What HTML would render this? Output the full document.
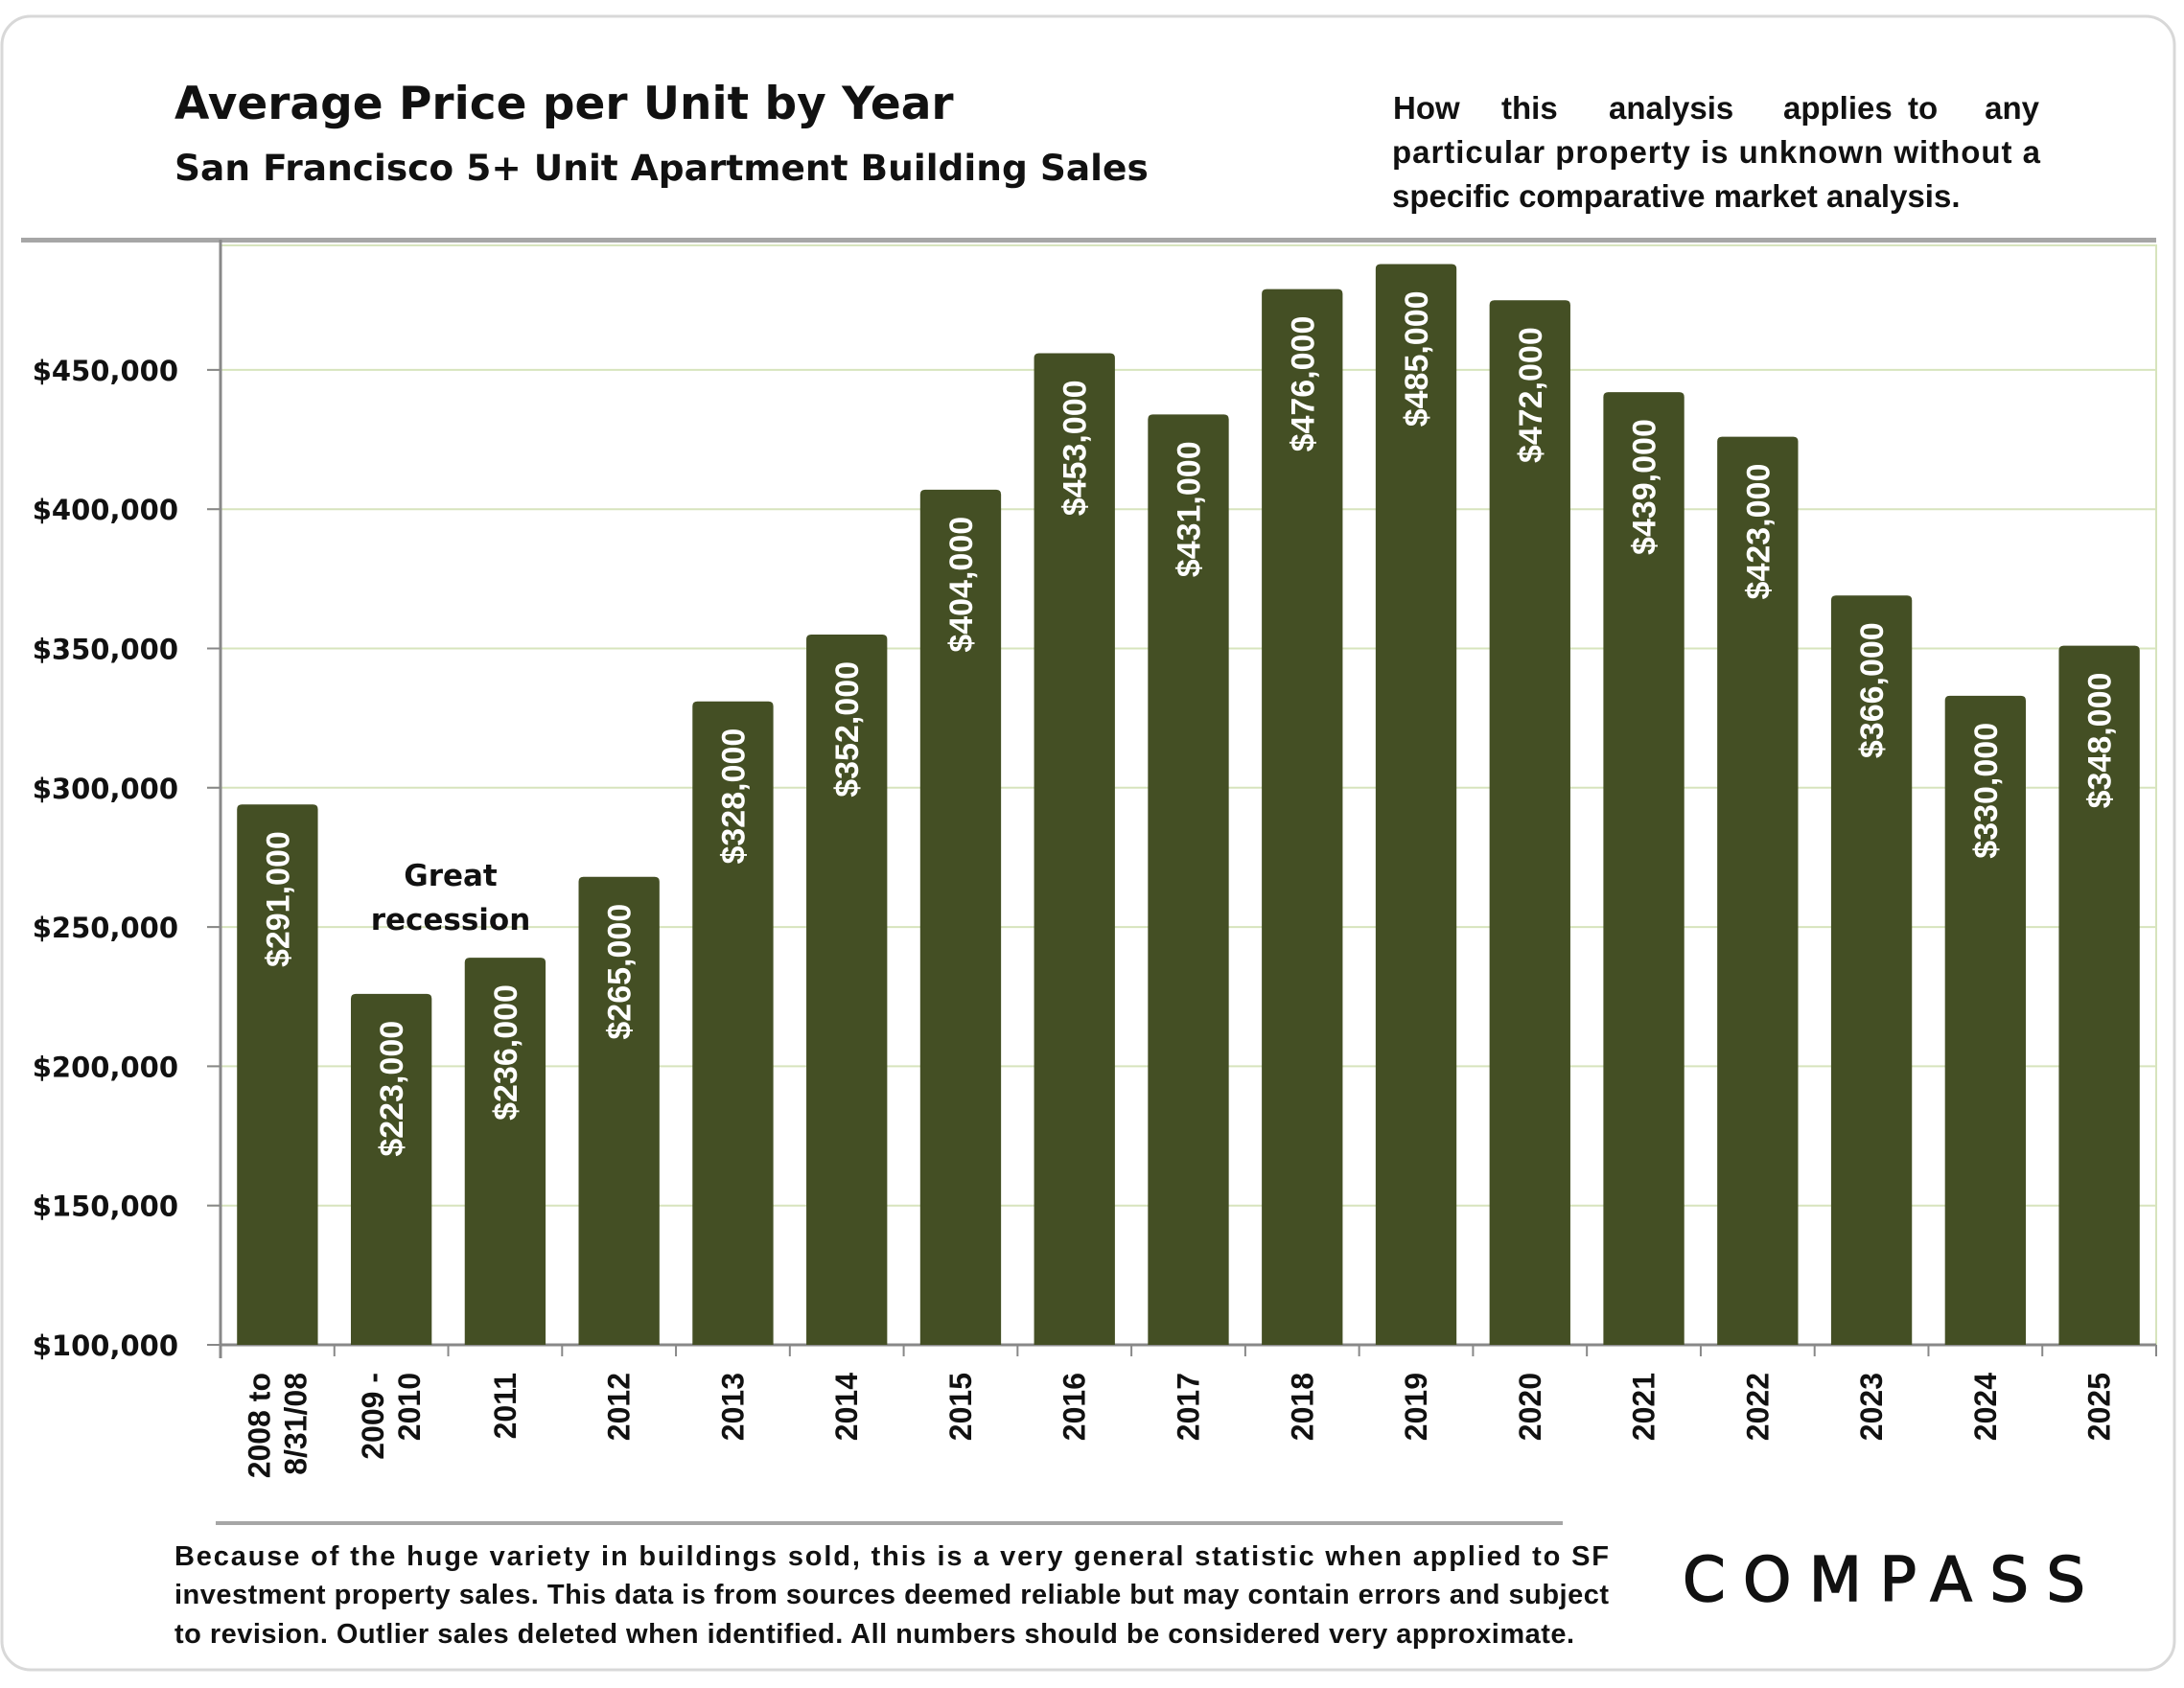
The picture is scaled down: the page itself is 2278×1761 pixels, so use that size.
<!DOCTYPE html>
<html><head><meta charset="utf-8">
<style>
html,body{margin:0;padding:0;background:#fff;}
body{width:2278px;height:1756px;overflow:hidden;position:relative;font-family:"Liberation Sans",sans-serif;}
</style></head>
<body>
<svg id="chart" width="2278" height="1756" viewBox="0 0 2278 1756" xmlns="http://www.w3.org/2000/svg">
  <rect x="2" y="17" width="2266" height="1725" rx="30" fill="#fff" stroke="#d8d8d8" stroke-width="3"/>
  <text x="182" y="124" font-family="DejaVu Sans, sans-serif" font-weight="bold" font-size="47" fill="#111">Average Price per Unit by Year</text>
  <text x="182" y="188" font-family="DejaVu Sans, sans-serif" font-weight="bold" font-size="37.5" fill="#111">San Francisco 5+ Unit Apartment Building Sales</text>
  <g font-family="Liberation Sans, sans-serif" font-weight="bold" font-size="33" fill="#111">
    <text x="1453" y="124">How</text>
    <text x="1566" y="124">this</text>
    <text x="1678" y="124">analysis</text>
    <text x="1860" y="124">applies</text>
    <text x="1990" y="124">to</text>
    <text x="2127" y="124" text-anchor="end">any</text>
    <text x="1452" y="170" textLength="676" lengthAdjust="spacing">particular property is unknown without a</text>
    <text x="1452" y="216">specific comparative market analysis.</text>
  </g>
  <rect x="22" y="248" width="2227" height="5" fill="#a6a6a6"/>
  <g id="plot"></g>
  <rect x="225" y="1587" width="1405" height="4" fill="#a6a6a6"/>
  <g font-family="Liberation Sans, sans-serif" font-weight="bold" font-size="29" fill="#111">
    <text x="182" y="1633" textLength="1496" lengthAdjust="spacing">Because of the huge variety in buildings sold, this is a very general statistic when applied to SF</text>
    <text x="182" y="1673" textLength="1496" lengthAdjust="spacing">investment property sales. This data is from sources deemed reliable but may contain errors and subject</text>
    <text x="182" y="1714" textLength="1460" lengthAdjust="spacing">to revision. Outlier sales deleted when identified. All numbers should be considered very approximate.</text>
  </g>
  <text x="1755" y="1670" font-family="DejaVu Sans, sans-serif" font-size="64" letter-spacing="4" fill="#111" stroke="#111" stroke-width="1.5" textLength="424" lengthAdjust="spacing">COMPASS</text>
</svg>
<script>
const categories = [["2008 to","8/31/08"],["2009 -","2010"],["2011"],["2012"],["2013"],["2014"],["2015"],["2016"],["2017"],["2018"],["2019"],["2020"],["2021"],["2022"],["2023"],["2024"],["2025"]];
const values = [294000,226000,239000,268000,331000,355000,407000,456000,434000,479000,488000,475000,442000,426000,369000,333000,351000];
const valueLabels = ["$291,000","$223,000","$236,000","$265,000","$328,000","$352,000","$404,000","$453,000","$431,000","$476,000","$485,000","$472,000","$439,000","$423,000","$366,000","$330,000","$348,000"];
const yTicks = [100000,150000,200000,250000,300000,350000,400000,450000];
const yTickLabels = ["$100,000","$150,000","$200,000","$250,000","$300,000","$350,000","$400,000","$450,000"];

const NS="http://www.w3.org/2000/svg";
const L=230,R=2249,T=256,B=1403,yMin=100000,yMax=494700;
const y=v=>B-(v-yMin)/(yMax-yMin)*(B-T);
const bw=(R-L)/categories.length;
const x=i=>L+bw*i;
const g=document.getElementById('plot');
function mk(tag,attrs){const e=document.createElementNS(NS,tag);for(const k in attrs)e.setAttribute(k,attrs[k]);g.appendChild(e);return e;}

const frame=mk('rect',{x:L,y:T,width:R-L,height:B-T,fill:'none',stroke:'#d7e4bd','stroke-width':2});


yTicks.forEach((t,i)=>{
  const gl=mk('line',{x1:L-14,x2:R,y1:y(t),y2:y(t),stroke:i===0?'#888':'#d7e4bd','stroke-width':2});
  
  
  const tk=mk('line',{x1:L-14,x2:L,y1:y(t),y2:y(t),stroke:'#888','stroke-width':2});
  
  
  const tl=mk('text',{x:186,y:y(t)+11,'text-anchor':'end','font-family':'DejaVu Sans, sans-serif','font-weight':'bold','font-size':29,fill:'#111'});
  tl.textContent=yTickLabels[i];
  
  
});
const ax=mk('line',{x1:L,x2:L,y1:T-6,y2:B+14,stroke:'#888','stroke-width':3});


const xa=mk('line',{x1:L,x2:R,y1:B,y2:B,stroke:'#888','stroke-width':3});


for(let i=0;i<=categories.length;i++){
  const t=mk('line',{x1:x(i),x2:x(i),y1:B,y2:B+12,stroke:'#888','stroke-width':2});
  
  
}
values.forEach((v,i)=>{
  const cx=x(i)+bw/2, w=bw*0.71, top=y(v);
  const b=mk('path',{d:`M${cx-w/2},${B} V${top+5} Q${cx-w/2},${top} ${cx-w/2+5},${top} H${cx+w/2-5} Q${cx+w/2},${top} ${cx+w/2},${top+5} V${B} Z`,fill:'#444f24'});
  
  
  const lt=mk('text',{transform:`translate(${cx+12},${top+28}) rotate(-90)`,'text-anchor':'end','font-family':'Liberation Sans Narrow, Liberation Sans, sans-serif','font-weight':'bold','font-size':34,fill:'#fff'});
  lt.textContent=valueLabels[i];
  
  
  const lines=categories[i];
  lines.forEach((s,j)=>{
    const off=(j-(lines.length-1)/2)*38;
    const c=mk('text',{transform:`translate(${cx+11+off},${1432}) rotate(-90)`,'text-anchor':'end','font-family':'Liberation Sans, sans-serif','font-weight':'bold','font-size':32,fill:'#111'});
    c.textContent=s;
    
    
  });
});
const a1=mk('text',{x:470,y:924,'text-anchor':'middle','font-family':'DejaVu Sans, sans-serif','font-weight':'bold','font-size':31,fill:'#111'});
a1.textContent='Great';


const a2=mk('text',{x:470,y:970,'text-anchor':'middle','font-family':'DejaVu Sans, sans-serif','font-weight':'bold','font-size':31,fill:'#111'});
a2.textContent='recession';


</script>
</body></html>
